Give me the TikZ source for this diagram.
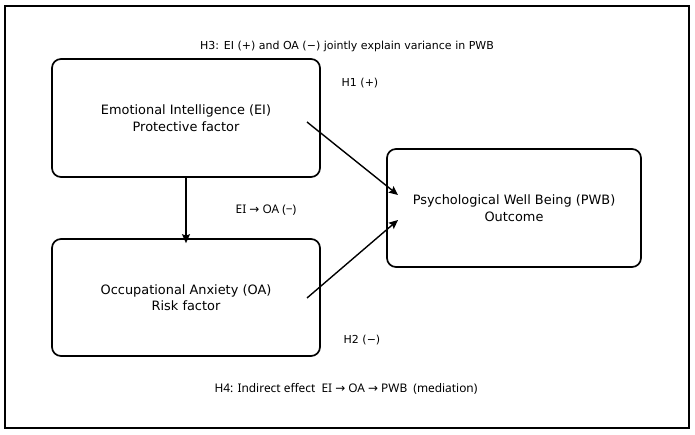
\documentclass[tikz,border=0pt]{standalone}
\usepackage{fontspec}
\setmainfont{DejaVu Sans}
\newfontfamily\notefont{Noto Sans}
\newfontfamily\symfont{DejaVu Sans}
\newcommand{\rarr}{{\symfont →}}
\usetikzlibrary{arrows.meta}
\begin{document}
\begin{tikzpicture}[x=1pt,y=-1pt,
  factorbox/.style={draw,line width=1.7pt,rounded corners=9pt,align=center,
    font=\fontsize{12.9}{16.5}\selectfont,inner sep=0pt},
  hyp/.style={font=\fontsize{11}{13}\selectfont},
  hypalt/.style={font=\notefont\fontsize{11.9}{13}\selectfont},
  link/.style={line width=1.4pt,-{Stealth[length=9pt,width=8pt,inset=1.5pt]}}]
\useasboundingbox (0,0) rectangle (695,435);
% outer frame
\draw[line width=1.8pt] (5,6) rectangle (689,428);
% constructs
\node[factorbox,minimum width=268pt,minimum height=118pt] (ei) at (186,118)
  {Emotional Intelligence (EI)\\Protective factor};
\node[factorbox,minimum width=268pt,minimum height=117pt] (oa) at (186,297.5)
  {Occupational Anxiety (OA)\\Risk factor};
\node[factorbox,minimum width=254pt,minimum height=118pt] (pwb) at (514,208)
  {Psychological Well Being (PWB)\\Outcome};
% anchor points for the paths
\coordinate (eiout) at (307,122);
\coordinate (oaout) at (307,298);
\coordinate (pwbin1) at (398,195);
\coordinate (pwbin2) at (398,220);
% paths
\draw[link] (ei.south) -- ([yshift=-5pt]oa.north);
\draw[link] (eiout) -- (pwbin1);
\draw[link] (oaout) -- (pwbin2);
% hypothesis labels
\node[hyp] (h3) at (347,46) {H3: EI (+) and OA (−) jointly explain variance in PWB};
\node[hyp] (h1) at (360,83) {H1 (+)};
\node[hypalt] (eioa) at (266,210) {EI \rarr\ OA (−)};
\node[hyp] (h2) at (362,340) {H2 (−)};
\node[hypalt] (h4) at (346,389) {H4: Indirect effect\ \ EI \rarr\ OA \rarr\ PWB\ \ (mediation)};
\end{tikzpicture}
\end{document}
